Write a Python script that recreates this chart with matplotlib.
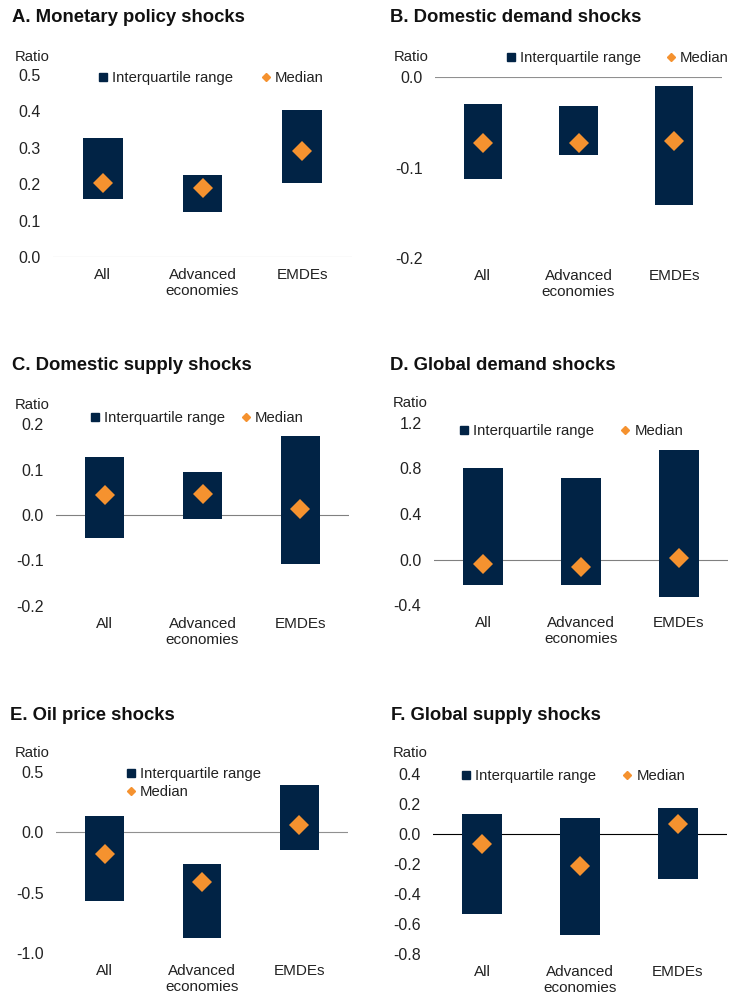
import matplotlib
matplotlib.use("Agg")
import matplotlib.pyplot as plt
from matplotlib.lines import Line2D

plt.rcParams['font.family'] = ['Liberation Sans', 'DejaVu Sans']

W, H = 734, 996
NAVY = "#012345"
ORANGE = "#f5922f"

categories = ["All", "Advanced\neconomies", "EMDEs"]

# interquartile range (low, high) and median, one list per panel
mon_low = [0.158, 0.123, 0.203]
mon_high = [0.326, 0.226, 0.405]
mon_med = [0.204, 0.189, 0.291]

ddem_low = [-0.113, -0.086, -0.141]
ddem_high = [-0.030, -0.032, -0.010]
ddem_med = [-0.073, -0.073, -0.071]

dsup_low = [-0.051, -0.009, -0.107]
dsup_high = [0.127, 0.094, 0.174]
dsup_med = [0.043, 0.046, 0.013]

gdem_low = [-0.22, -0.22, -0.33]
gdem_high = [0.80, 0.72, 0.96]
gdem_med = [-0.04, -0.07, 0.015]

oil_low = [-0.57, -0.875, -0.15]
oil_high = [0.135, -0.26, 0.395]
oil_med = [-0.178, -0.41, 0.063]

gsup_low = [-0.535, -0.672, -0.298]
gsup_high = [0.135, 0.108, 0.176]
gsup_med = [-0.064, -0.216, 0.064]

titles = ["A. Monetary policy shocks", "B. Domestic demand shocks",
          "C. Domestic supply shocks", "D. Global demand shocks",
          "E. Oil price shocks", "F. Global supply shocks"]

panels = [
    # data, ylim, yticks, axes px (l, r, top, bottom), title px, ratio px, legend px, colspacing, ncol, zero color
    ((mon_low, mon_high, mon_med), (0.0, 0.5), [0, 0.1, 0.2, 0.3, 0.4, 0.5],
     (53, 352, 75, 257), (12, 18), (15, 57), (103, 78), 1.9, 2, "#b0b0b0"),
    ((ddem_low, ddem_high, ddem_med), (-0.2, 0.0), [-0.2, -0.1, 0.0],
     (435, 722, 77, 258), (390, 18), (394, 57), (511, 58), 1.7, 2, "#909090"),
    ((dsup_low, dsup_high, dsup_med), (-0.2, 0.2), [-0.2, -0.1, 0.0, 0.1, 0.2],
     (56, 349, 424, 606), (12, 365), (15, 405), (95, 418), 1.1, 2, "#808080"),
    ((gdem_low, gdem_high, gdem_med), (-0.4, 1.2), [-0.4, 0.0, 0.4, 0.8, 1.2],
     (434, 728, 423, 605), (390, 365), (393, 403), (464, 431), 1.8, 2, "#808080"),
    ((oil_low, oil_high, oil_med), (-1.0, 0.5), [-1.0, -0.5, 0.0, 0.5],
     (56, 348, 772, 953), (10, 715), (15, 753), (131, 783), 1.0, 1, "#909090"),
    ((gsup_low, gsup_high, gsup_med), (-0.8, 0.4), [-0.8, -0.6, -0.4, -0.2, 0.0, 0.2, 0.4],
     (433, 727, 774, 954), (391, 715), (393, 753), (466, 776), 1.8, 2, "#000000"),
]

fig = plt.figure(figsize=(W / 100, H / 100), dpi=100)

FS = 10.75
x = list(range(len(categories)))

for title, p in zip(titles, panels):
    (low, high, med), ylim, yticks, box, tpos, rpos, lpos, colsp, ncol, zc = p
    l, r, t, b = box
    ax = fig.add_axes([l / W, 1 - b / H, (r - l) / W, (b - t) / H])
    heights = [h - lo for lo, h in zip(low, high)]
    ax.bar(x, heights, bottom=low, width=0.4, color=NAVY, zorder=2)
    ax.axhline(0, color=zc, lw=0.8, zorder=1)
    ax.plot(x, med, "D", color=ORANGE, markersize=10, markeredgewidth=0, linestyle="none",
            zorder=3, clip_on=False)
    ax.set_xlim(-0.5, 2.5)
    ax.set_ylim(*ylim)
    ax.set_yticks(yticks)
    ax.set_yticklabels(["{:.1f}".format(v + 0.0) for v in yticks])
    ax.set_xticks(x)
    ax.set_xticklabels(categories, linespacing=1.2)
    ax.tick_params(length=0, colors="#222222")
    ax.tick_params(axis="y", pad=9, labelsize=11.5)
    ax.tick_params(axis="x", pad=8, labelsize=11)
    for s in ax.spines.values():
        s.set_visible(False)

    fig.text(tpos[0] / W, 1 - tpos[1] / H, title, fontsize=13.3, fontweight="bold",
             ha="left", va="center", color="#111111")
    fig.text(rpos[0] / W, 1 - rpos[1] / H, "Ratio", fontsize=FS, ha="left", va="center",
             color="#222222")

    handles = [Line2D([], [], marker="s", color=NAVY, linestyle="none", markersize=5.5),
               Line2D([], [], marker="D", color=ORANGE, linestyle="none", markersize=4.2)]
    hl = 0.6
    anchor_x = lpos[0] - hl * FS * 100 / 72 / 2
    leg = ax.legend(handles, ["Interquartile range", "Median"], ncol=ncol,
                    loc="center left",
                    bbox_to_anchor=(anchor_x / W, 1 - lpos[1] / H),
                    bbox_transform=fig.transFigure, frameon=False, fontsize=FS,
                    borderpad=0, borderaxespad=0, handlelength=hl, handletextpad=0.3,
                    columnspacing=colsp, labelspacing=0.3)
    for txt in leg.get_texts():
        txt.set_color("#222222")

fig.savefig("out.png", dpi=100, facecolor="white")
